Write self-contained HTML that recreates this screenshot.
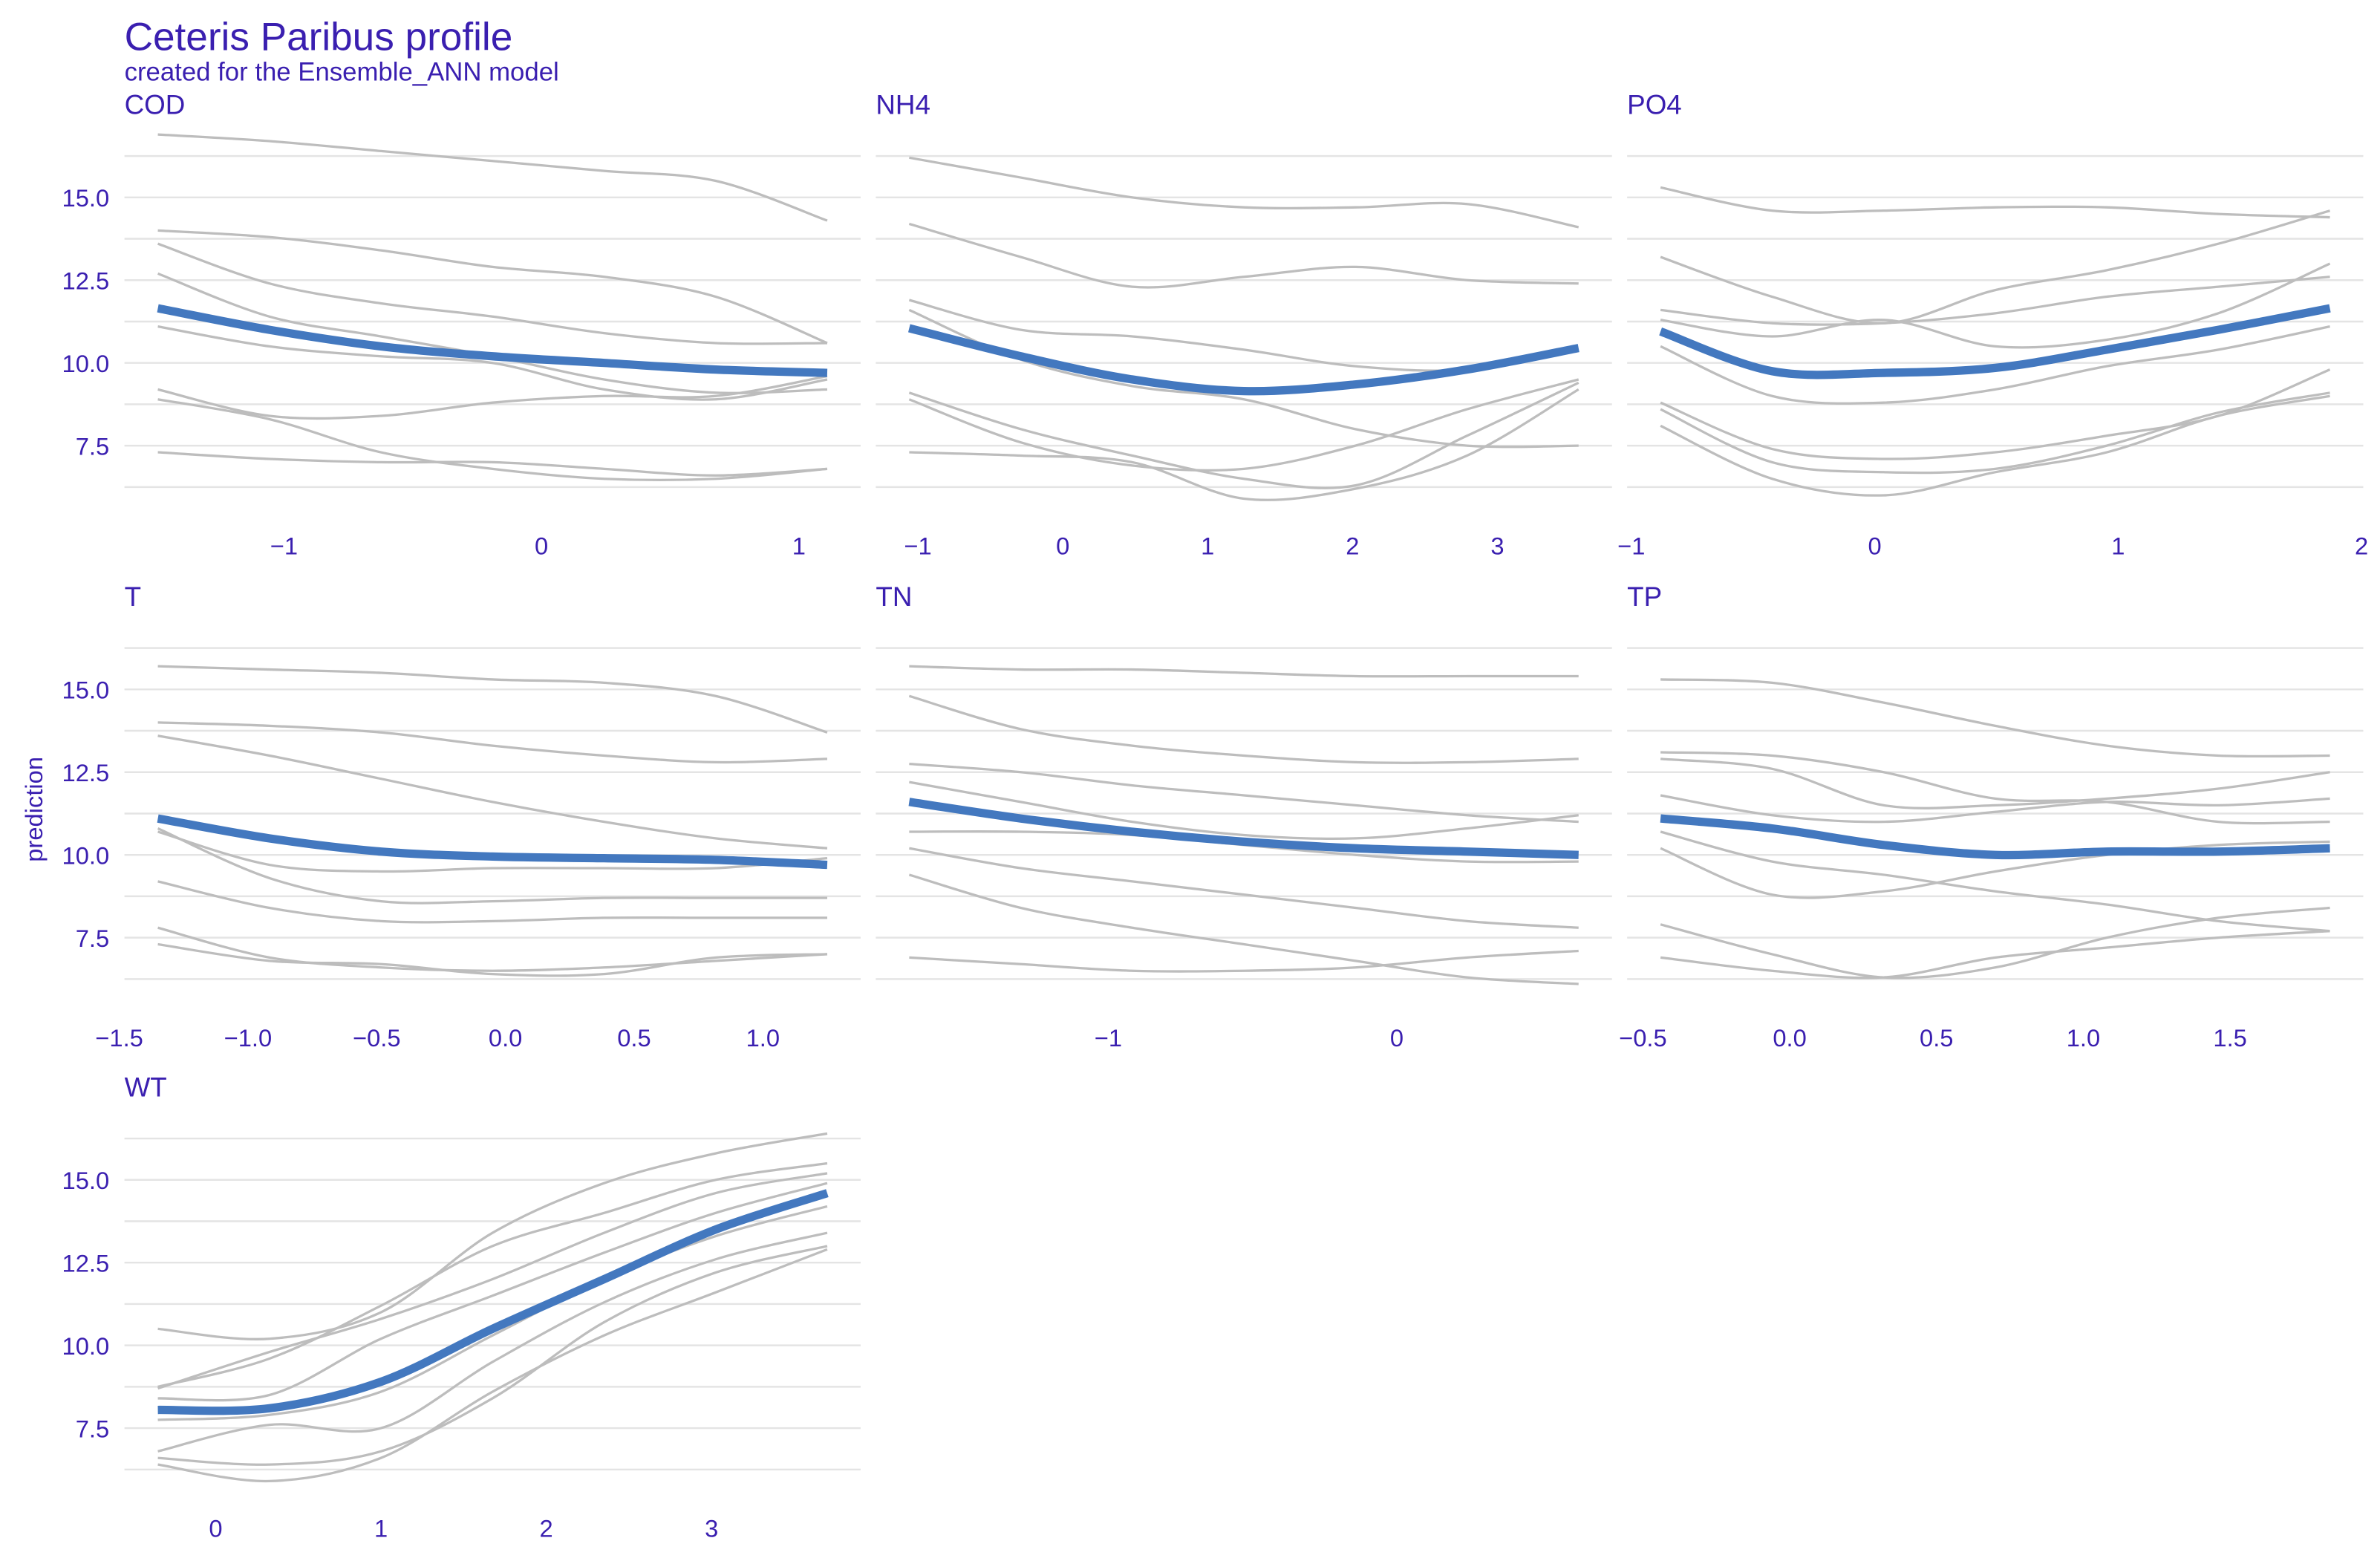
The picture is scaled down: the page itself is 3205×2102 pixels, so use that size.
<!DOCTYPE html>
<html><head><meta charset="utf-8"><style>
html,body{margin:0;padding:0;background:#fff;}
svg{display:block;font-family:"Liberation Sans",Arial,sans-serif;}
</style></head><body>
<svg id="chart" width="3205" height="2102" viewBox="0 0 1568 1028" preserveAspectRatio="none" xmlns="http://www.w3.org/2000/svg">
<text x="82" y="33" font-size="26" fill="#3a1fb0">Ceteris Paribus profile</text>
<text x="82" y="53" font-size="17" fill="#3a1fb0">created for the Ensemble_ANN model</text>
<text transform="translate(28,533) rotate(-90)" text-anchor="middle" font-size="16" fill="#3a1fb0">prediction</text>
<g id="panels"></g>
</svg>
<script>
const yTicks = [7.5, 10.0, 12.5, 15.0];
const panelNames = ["COD","NH4","PO4","T","TN","TP","WT"];
const xDomains = [[-1.49,1.11],[-1.06,3.56],[-0.88,1.87],[-1.35,1.25],[-1.69,0.63],[-0.44,1.84],[-0.35,3.70]];
const xTickVals = [[-1,0,1],[-1,0,1,2,3],[-1,0,1,2],[-1.5,-1.0,-0.5,0.0,0.5,1.0],[-1,0],[-0.5,0.0,0.5,1.0,1.5],[0,1,2,3]];
const xTickLabels = [["−1","0","1"],["−1","0","1","2","3"],["−1","0","1","2"],["−1.5","−1.0","−0.5","0.0","0.5","1.0"],["−1","0"],["−0.5","0.0","0.5","1.0","1.5"],["0","1","2","3"]];
const grayCOD = [[16.9,16.7,16.4,16.1,15.8,15.5,14.3],[14.0,13.8,13.4,12.9,12.6,12.0,10.6],[13.6,12.4,11.8,11.4,10.9,10.6,10.6],[12.7,11.4,10.8,10.2,9.5,9.1,9.2],[11.1,10.5,10.2,10.0,9.2,8.9,9.5],[9.2,8.4,8.4,8.8,9.0,9.0,9.6],[8.9,8.3,7.3,6.8,6.5,6.5,6.8],[7.3,7.1,7.0,7.0,6.8,6.6,6.8]];
const grayNH4 = [[16.2,15.6,15.0,14.7,14.7,14.8,14.1],[14.2,13.2,12.3,12.6,12.9,12.5,12.4],[11.9,11.0,10.8,10.4,9.9,9.8,10.4],[11.6,10.1,9.3,8.9,8.0,7.5,7.5],[9.1,8.0,7.2,6.5,6.3,7.8,9.4],[8.9,7.6,6.9,6.8,7.5,8.6,9.5],[7.3,7.2,7.0,5.9,6.2,7.2,9.2]];
const grayPO4 = [[15.3,14.6,14.6,14.7,14.7,14.5,14.4],[13.2,12.0,11.2,12.2,12.8,13.6,14.6],[11.6,11.2,11.2,11.5,12.0,12.3,12.6],[11.3,10.8,11.3,10.5,10.7,11.5,13.0],[10.5,9.0,8.8,9.2,9.9,10.4,11.1],[8.8,7.4,7.1,7.3,7.8,8.4,9.8],[8.6,7.0,6.7,6.8,7.5,8.5,9.1],[8.1,6.5,6.0,6.7,7.3,8.4,9.0]];
const grayT = [[15.7,15.6,15.5,15.3,15.2,14.8,13.7],[14.0,13.9,13.7,13.3,13.0,12.8,12.9],[13.6,13.0,12.3,11.6,11.0,10.5,10.2],[10.7,9.7,9.5,9.6,9.6,9.6,9.9],[10.8,9.3,8.6,8.6,8.7,8.7,8.7],[9.2,8.4,8.0,8.0,8.1,8.1,8.1],[7.8,6.9,6.6,6.5,6.6,6.8,7.0],[7.3,6.8,6.7,6.4,6.4,6.9,7.0]];
const grayTN = [[15.7,15.6,15.6,15.5,15.4,15.4,15.4],[14.8,13.8,13.3,13.0,12.8,12.8,12.9],[12.75,12.5,12.1,11.8,11.5,11.2,11.0],[12.2,11.6,11.0,10.6,10.5,10.8,11.2],[10.7,10.7,10.6,10.3,10.0,9.8,9.8],[10.2,9.6,9.2,8.8,8.4,8.0,7.8],[9.4,8.4,7.8,7.3,6.8,6.3,6.1],[6.9,6.7,6.5,6.5,6.6,6.9,7.1]];
const grayTP = [[15.3,15.2,14.6,13.9,13.3,13.0,13.0],[13.1,13.0,12.5,11.7,11.6,11.0,11.0],[12.9,12.6,11.5,11.5,11.7,12.0,12.5],[11.8,11.2,11.0,11.3,11.6,11.5,11.7],[10.2,8.8,8.9,9.5,10.0,10.3,10.4],[10.7,9.8,9.4,8.9,8.5,8.0,7.7],[7.9,7.0,6.3,6.6,7.5,8.1,8.4],[6.9,6.5,6.3,6.9,7.2,7.5,7.7]];
const grayWT = [[10.5,10.2,11.0,13.4,14.9,15.8,16.4],[8.75,9.6,11.2,13.0,14.0,15.0,15.5],[8.7,9.8,10.8,12.0,13.4,14.6,15.2],[8.4,8.5,10.2,11.5,12.8,14.0,14.9],[7.75,7.9,8.6,10.3,12.0,13.3,14.2],[6.8,7.6,7.5,9.5,11.3,12.6,13.4],[6.6,6.4,6.8,8.4,10.7,12.2,13.0],[6.4,5.9,6.6,8.6,10.3,11.6,12.9]];
const meanCOD = [11.65,11.0,10.5,10.2,10.0,9.8,9.7];
const meanNH4 = [11.05,10.2,9.5,9.15,9.35,9.8,10.45];
const meanPO4 = [10.95,9.75,9.7,9.85,10.4,11.0,11.65];
const meanT = [11.1,10.5,10.1,9.95,9.9,9.85,9.7];
const meanTN = [11.6,11.1,10.7,10.4,10.2,10.1,10.0];
const meanTP = [11.1,10.8,10.3,10.0,10.1,10.1,10.2];
const meanWT = [8.05,8.1,8.9,10.5,12.0,13.5,14.6];

const grays = [grayCOD,grayNH4,grayPO4,grayT,grayTN,grayTP,grayWT];
const means = [meanCOD,meanNH4,meanPO4,meanT,meanTN,meanTP,meanWT];
const NS = "http://www.w3.org/2000/svg";
const root = document.getElementById("panels");
const colX = [82,577,1072], rowBase = [130,454,777];
const PW = 485, LX0 = 22, LX1 = 463;
function mk(tag, attrs, parent){const e=document.createElementNS(NS,tag);for(const k in attrs)e.setAttribute(k,attrs[k]);parent.appendChild(e);return e;}
function pathFrom(pts){
  let d="M"+pts[0][0]+","+pts[0][1];
  for(let i=0;i<pts.length-1;i++){
    const p0=pts[Math.max(0,i-1)],p1=pts[i],p2=pts[i+1],p3=pts[Math.min(pts.length-1,i+2)];
    const c1=[p1[0]+(p2[0]-p0[0])/6,p1[1]+(p2[1]-p0[1])/6];
    const c2=[p2[0]-(p3[0]-p1[0])/6,p2[1]-(p3[1]-p1[1])/6];
    d+=" C"+c1[0]+","+c1[1]+" "+c2[0]+","+c2[1]+" "+p2[0]+","+p2[1];
  }
  return d;
}
panelNames.forEach((name,i)=>{
  const r=Math.floor(i/3), c=i%3;
  const x0=colX[c], base=rowBase[r];
  const [d0,d1]=xDomains[i];
  const sx=v=>x0+LX0+(v-d0)/(d1-d0)*(LX1-LX0);
  const sy=v=>base+(15-v)*21.8;
  const g=mk("g",{},root);
  
  
  for(let k=0;k<9;k++){
    const v=16.25-k*1.25;
    const ln=mk("line",{x1:x0,x2:x0+PW,y1:sy(v),y2:sy(v),stroke:"#e4e4e4","stroke-width":1.2},g);
    
    
  }
  const t=mk("text",{x:x0,y:base-55,"font-size":18,fill:"#3a1fb0"},g);
  t.textContent=name;
  
  
  if(c===0){
    yTicks.forEach(v=>{
      const tt=mk("text",{x:72,y:sy(v)+6,"text-anchor":"end","font-size":16,fill:"#3a1fb0"},g);
      tt.textContent=v.toFixed(1);
      
      
    });
  }
  xTickVals[i].forEach((v,j)=>{
    const tt=mk("text",{x:sx(v),y:base+235,"text-anchor":"middle","font-size":16,fill:"#3a1fb0"},g);
    tt.textContent=xTickLabels[i][j];
    
    
  });
  const n=means[i].length;
  const xs=means[i].map((_,k)=>d0+(d1-d0)*k/(n-1));
  grays[i].forEach(series=>{
    const p=mk("path",{d:pathFrom(series.map((v,k)=>[sx(xs[k]),sy(v)])),fill:"none",stroke:"#bdbdbd","stroke-width":1.6},g);
    
    
  });
  const m=mk("path",{d:pathFrom(means[i].map((v,k)=>[sx(xs[k]),sy(v)])),fill:"none",stroke:"#4378bf","stroke-width":5.5},g);
  
  
});
</script>
</body></html>
